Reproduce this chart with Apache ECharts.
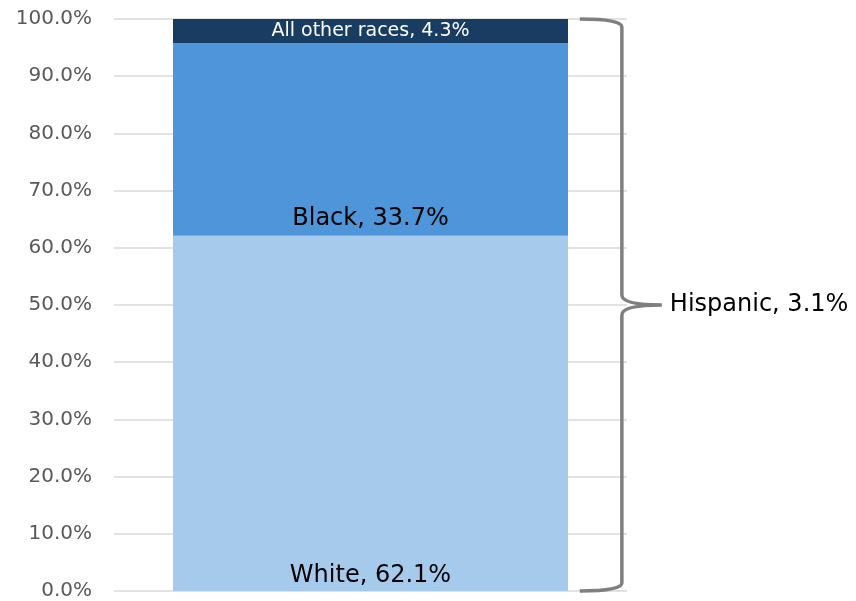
<!DOCTYPE html>
<html><head><meta charset="utf-8">
<script src="https://cdn.jsdelivr.net/npm/echarts@6/dist/echarts.min.js"></script>
<style>html,body{margin:0;padding:0;background:#fff}#c{width:856px;height:601px}</style>
</head><body><div id="c"></div>
<script>
const categories = ['Total'];
const seriesNames = ['White', 'Black', 'All other races'];
const whiteValues = [62.1];
const blackValues = [33.7];
const otherValues = [4.3];
const hispanicLabel = 'Hispanic';
const hispanicValues = [3.1];
const yTicks = {min: 0, max: 100, interval: 10};

const FONT = '"DejaVu Sans", sans-serif';
const chart = echarts.init(document.getElementById('c'), null, {renderer: 'canvas'});

function seg(name, data, color, labelColor, pos, fs, dist) {
  return {
    name, type: 'bar', stack: 'total', data, barWidth: '77%',
    itemStyle: {color},
    label: {show: true, position: pos, color: labelColor, fontFamily: FONT, fontSize: fs,
      distance: dist,
      formatter: p => p.seriesName + ', ' + p.value.toFixed(1) + '%'}
  };
}

chart.setOption({
  animation: false,
  grid: {left: 114, right: 229, top: 19, bottom: 10, containLabel: false},
  xAxis: {type: 'category', data: categories, axisLine: {show: false}, axisTick: {show: false}, axisLabel: {show: false}},
  yAxis: {type: 'value', min: yTicks.min, max: yTicks.max, interval: yTicks.interval,
    axisLine: {show: false}, axisTick: {show: false},
    splitLine: {lineStyle: {color: '#D9D9D9', width: 1.5}},
    axisLabel: {color: '#595959', fontFamily: FONT, fontSize: 20, margin: 22,
      formatter: v => v.toFixed(1) + '%'}},
  series: [
    seg(seriesNames[0], whiteValues, '#A6CAEC', '#000', 'insideBottom', 24, 3),
    seg(seriesNames[1], blackValues, '#4E95D9', '#000', 'insideBottom', 24, 5),
    seg(seriesNames[2], otherValues, '#193D62', '#fff', 'inside', 19, 2),
    {
      type: 'custom', name: hispanicLabel, data: hispanicValues.map((v, i) => [i, v]),
      z: 10, silent: true,
      renderItem: (params, api) => {
        const bottom = api.coord([api.value(0), yTicks.min]);
        const top = api.coord([api.value(0), yTicks.max]);
        const band = api.size([1, 0])[0];
        const x0 = bottom[0] + band * 0.408;
        const x1 = bottom[0] + band * 0.49;
        const mid = (top[1] + bottom[1]) / 2;
        const tip = x1 + 40;
        const r = 8;
        const d = [
          'M', x0, top[1],
          'Q', x1, top[1], x1, top[1] + r,
          'L', x1, mid - 10,
          'Q', x1, mid, tip, mid,
          'Q', x1, mid, x1, mid + 10,
          'L', x1, bottom[1] - r,
          'Q', x1, bottom[1], x0, bottom[1]
        ].join(' ');
        return {type: 'group', children: [
          {type: 'path', shape: {pathData: d}, style: {fill: null, stroke: '#7F7F7F', lineWidth: 3.5}},
          {type: 'text', x: tip + 8, y: mid, style: {
            text: hispanicLabel + ', ' + api.value(1).toFixed(1) + '%',
            fill: '#000', fontFamily: FONT, fontSize: 24, verticalAlign: 'middle', align: 'left'}}
        ]};
      }
    }
  ]
});
</script></body></html>
